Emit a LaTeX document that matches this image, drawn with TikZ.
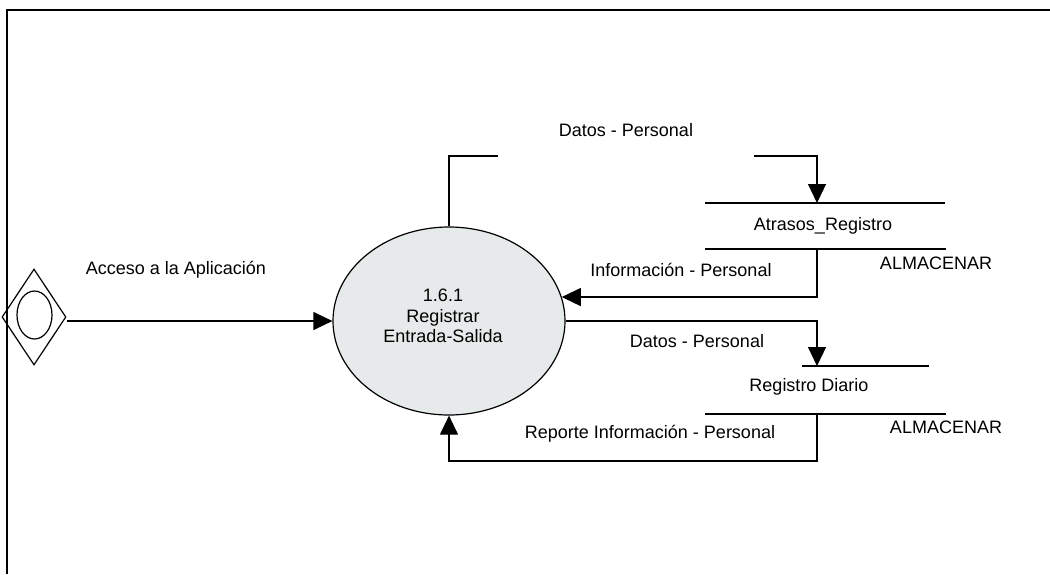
\documentclass[tikz,border=0pt]{standalone}
\usepackage{fontspec}
\setmainfont{Liberation Sans}
\usetikzlibrary{arrows.meta,shapes.geometric}
\definecolor{procfill}{RGB}{230,234,234}
\begin{document}
\begin{tikzpicture}[x=1pt,y=-1pt,
  line width=1.2pt,
  lbl/.style={font=\fontsize{18}{20.5}\selectfont, inner sep=0pt},
  flow/.style={draw, -{Triangle[length=19pt,width=18pt]}},
  storeline/.style={draw, line width=1.2pt}]
\useasboundingbox (0,0) rectangle (1050,574);

% open frame: left and top edges
\draw[line width=1.6pt] (7,574) -- (7,10) -- (1050,10);

% external entity
\node[diamond, draw, minimum width=64pt, minimum height=96pt, inner sep=0pt] (ext) at (34,317) {};
\node[ellipse, draw, minimum width=35pt, minimum height=48pt, inner sep=0pt] (extin) at (34.5,315) {};

% process
\node[ellipse, draw, fill=procfill, minimum width=232pt, minimum height=188pt, inner sep=0pt] (proc) at (449,321) {};
\node[lbl, align=center] (proclbl) at (443,316) {1.6.1\\Registrar\\Entrada-Salida};

% data store: Atrasos_Registro
\coordinate (s1a) at (705,203);
\coordinate (s1b) at (945,203);
\coordinate (s1c) at (705,249);
\coordinate (s1d) at (946,249);
\draw[storeline] (s1a) -- (s1b);
\draw[storeline] (s1c) -- (s1d);
\node[lbl] (s1name) at (823,226) {Atrasos\_Registro};
\node[lbl] (s1tag) at (936,263) {ALMACENAR};

% data store: Registro Diario
\coordinate (s2a) at (802,366);
\coordinate (s2b) at (929,366);
\coordinate (s2c) at (705,414);
\coordinate (s2d) at (946,414);
\draw[storeline] (s2a) -- (s2b);
\draw[storeline] (s2c) -- (s2d);
\node[lbl] (s2name) at (809,387) {Registro Diario};
\node[lbl] (s2tag) at (946,427) {ALMACENAR};

% connector end points
\coordinate (s1in) at (817,203);
\coordinate (s1out) at (817,249);
\coordinate (s2in) at (817,366);
\coordinate (s2out) at (817,414);
\coordinate (t1end) at (498,156);
\coordinate (t2start) at (754,156);
\coordinate (retlow) at (0,461);
\coordinate (pin) at (proc.12.6);

% flows
\draw[flow] (ext.east |- proc.west) -- (proc.west);
\node[lbl] (accl) at (176,270) {Acceso a la Aplicación};

\draw (proc.north) |- (t1end);
\draw[flow] (t2start) -| (s1in);
\node[lbl] (dat1) at (626,130) {Datos - Personal};

\draw[flow] (s1out) |- (pin);
\node[lbl] (inf1) at (681,270) {Información - Personal};

\draw[flow] (proc.east) -| (s2in);
\node[lbl] (dat2) at (697,341) {Datos - Personal};

\draw[flow] (s2out) -- (s2out |- retlow) -| (proc.south);
\node[lbl] (rep1) at (650,434) {Reporte Información - Personal};
\end{tikzpicture}
\end{document}
